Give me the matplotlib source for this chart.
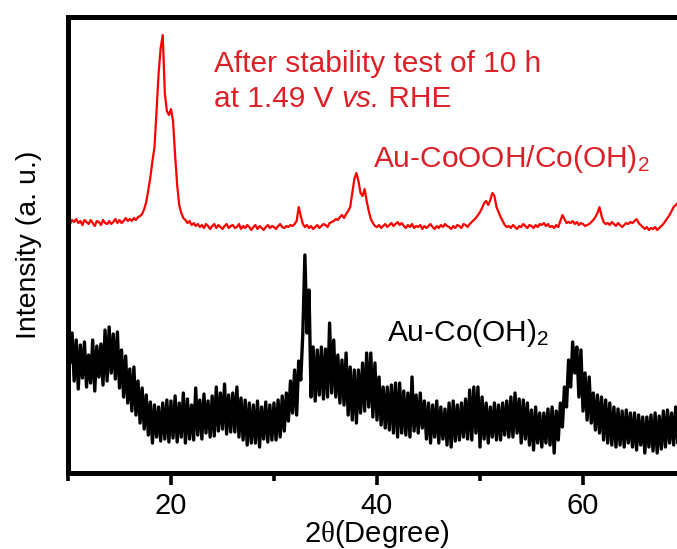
import numpy as np
import matplotlib
matplotlib.use("Agg")
import matplotlib.pyplot as plt

plt.rcParams['font.family'] = ['Liberation Sans', 'DejaVu Sans']
plt.rcParams['mathtext.fontset'] = 'custom'
plt.rcParams['mathtext.rm'] = 'Liberation Sans'
plt.rcParams['mathtext.it'] = 'Liberation Sans:italic'
plt.rcParams['mathtext.sf'] = 'Liberation Serif'

# 2-theta sampling grid (degrees), 0.2 degree step from 10 to 70
two_theta = np.linspace(10, 70, 301)

# Au-CoOOH/Co(OH)2 after stability test (red), intensity in a.u.
red_intensity = [
    256, 249, 253, 251, 254,  250, 252, 248, 253, 251,  249, 253, 250, 247, 252,
    251, 248, 253, 250, 249,  252, 249, 251, 254, 250,  253, 250, 252, 255, 252,
    254, 252, 255, 253, 256,  257, 259, 264, 271, 283,  296, 312, 326, 362, 400,
    425, 438, 380, 362, 358,  364, 352, 318, 288, 268,  260, 255, 253, 250, 252,
    248, 250, 247, 249, 246,  248, 245, 249, 247, 244,  247, 249, 245, 248, 246,
    244, 247, 249, 245, 247,  248, 245, 246, 249, 244,  247, 245, 248, 246, 243,
    246, 248, 244, 247, 245,  243, 246, 248, 245, 247,  246, 244, 247, 249, 246,
    245, 247, 246, 248, 247,  249, 252, 266, 257, 249,  246, 248, 245, 247, 244,
    246, 248, 245, 247, 249,  248, 246, 250, 251, 252,  254, 253, 256, 258, 255,
    259, 262, 266, 280, 294,  300, 292, 280, 277, 284,  272, 262, 254, 250, 247,
    246, 248, 245, 247, 249,  246, 248, 250, 247, 249,  251, 248, 250, 247, 245,
    248, 246, 249, 245, 247,  246, 248, 244, 247, 245,  247, 249, 246, 244, 247,
    245, 248, 246, 249, 247,  246, 244, 247, 245, 248,  247, 245, 249, 248, 246,
    249, 251, 253, 255, 258,  261, 265, 270, 272, 268,  273, 280, 277, 266, 261,
    256, 252, 248, 246, 247,  245, 248, 246, 244, 247,  246, 249, 247, 245, 248,
    247, 245, 248, 246, 249,  248, 250, 247, 249, 246,  247, 245, 248, 246, 252,
    258, 254, 250, 251, 250,  252, 249, 251, 248, 250,  249, 247, 248, 249, 251,
    253, 256, 260, 266, 257,  251, 249, 250, 248, 251,  249, 247, 250, 248, 246,
    248, 250, 249, 251, 250,  252, 254, 250, 248, 246,  244, 246, 243, 245, 244,
    246, 243, 245, 247, 249,  252, 255, 258, 262, 266,  268, 270, 268, 271, 272,
    270,
]

# Au-Co(OH)2 (black), intensity in a.u.
black_intensity = [
    156, 110, 140, 92, 133,  84, 128, 95, 131, 86,  118, 90, 133, 82, 127,
    96, 129, 88, 143, 92,  146, 100, 139, 94, 141,  85, 123, 76, 117, 70,
    104, 62, 106, 58, 92,  50, 85, 44, 78, 38,  71, 30, 68, 36, 66,
    32, 70, 34, 73, 31,  72, 35, 77, 31, 70,  36, 80, 30, 74, 34,
    68, 33, 85, 38, 73,  34, 79, 40, 72, 36,  77, 37, 86, 42, 80,
    44, 89, 39, 78, 41,  80, 41, 86, 36, 75,  33, 73, 28, 70, 30,
    68, 30, 72, 26, 66,  34, 71, 31, 68, 33,  70, 33, 73, 36, 77,
    42, 80, 52, 92, 60,  103, 58, 112, 93, 140,  218, 140, 183, 76, 126,
    72, 123, 78, 126, 74,  124, 76, 150, 80, 133,  76, 118, 70, 113, 68,
    120, 58, 106, 53, 103,  50, 103, 60, 110, 62,  120, 66, 120, 56, 110,
    53, 96, 48, 86, 45,  86, 43, 88, 40, 90,  36, 90, 40, 82, 38,
    80, 36, 96, 42, 78,  40, 80, 45, 72, 34,  70, 30, 68, 36, 72,
    30, 66, 34, 64, 28,  70, 26, 72, 32, 68,  33, 70, 36, 74, 34,
    83, 33, 86, 40, 86,  26, 76, 34, 70, 30,  66, 36, 70, 33, 68,
    33, 70, 38, 72, 36,  76, 36, 80, 40, 74,  30, 73, 34, 70, 28,
    63, 23, 66, 30, 60,  26, 60, 30, 64, 28,  66, 20, 62, 33, 70,
    46, 86, 66, 113, 86,  131, 100, 126, 76, 123,  62, 100, 53, 96, 50,
    80, 43, 78, 40, 76,  33, 73, 30, 70, 28,  66, 26, 64, 28, 62,
    26, 63, 30, 60, 26,  60, 23, 58, 28, 56,  20, 56, 26, 58, 22,
    60, 20, 57, 24, 62,  26, 63, 30, 60, 28,  66, 30, 63, 28, 64,
    30,
]

x_major_ticks = [20, 40, 60]
x_minor_ticks = [10, 30, 50, 70]

text_red = '#dd2027'
fs = 21.5

fig = plt.figure(figsize=(6.77, 5.49), dpi=100)
ax = fig.add_axes([0.1004, 0.1384, 0.9129, 0.8315])

ax.plot(two_theta, red_intensity, color='#ff0000', lw=1.6)
ax.plot(two_theta, black_intensity, color='black', lw=2.4)

ax.set_xlim(10, 70)
ax.set_ylim(0, 456.5)

for sp in ax.spines.values():
    sp.set_linewidth(3.6)

ax.set_xticks(x_major_ticks)
ax.set_xticks(x_minor_ticks, minor=True)
ax.tick_params(axis='x', which='major', direction='out', length=8.6, width=2.6,
               labelsize=21, pad=5)
ax.tick_params(axis='x', which='minor', direction='out', length=5.8, width=2.6)
ax.tick_params(axis='y', which='both', left=False, labelleft=False)

ax.set_xlabel(r'2$\mathsf{\theta}$(Degree)', fontsize=21)
ax.xaxis.set_label_coords(0.5, -0.099)
ax.set_ylabel('Intensity (a. u.)', fontsize=20.5)
ax.yaxis.set_label_coords(-0.042, 0.5)

ax.text(0.236, 0.8786, 'After stability test of 10 h', transform=ax.transAxes,
        color=text_red, fontsize=fs, va='baseline', ha='left')
t1 = ax.text(0.236, 0.801, 'at 1.49 V ', transform=ax.transAxes,
             color=text_red, fontsize=fs, va='baseline', ha='left')
t2 = ax.annotate('vs.', xy=(1, 0), xycoords=t1, color=text_red, fontsize=fs,
                 style='italic', va='bottom', ha='left')
ax.annotate(' RHE', xy=(1, 0), xycoords=t2, color=text_red, fontsize=fs,
            va='bottom', ha='left')
ax.text(0.4935, 0.671, r'Au-CoOOH/Co(OH)$_2$', transform=ax.transAxes,
        color=text_red, fontsize=fs, va='baseline', ha='left')
ax.text(0.5157, 0.2892, r'Au-Co(OH)$_2$', transform=ax.transAxes,
        color='black', fontsize=fs, va='baseline', ha='left')

fig.savefig('out.png', dpi=100)
